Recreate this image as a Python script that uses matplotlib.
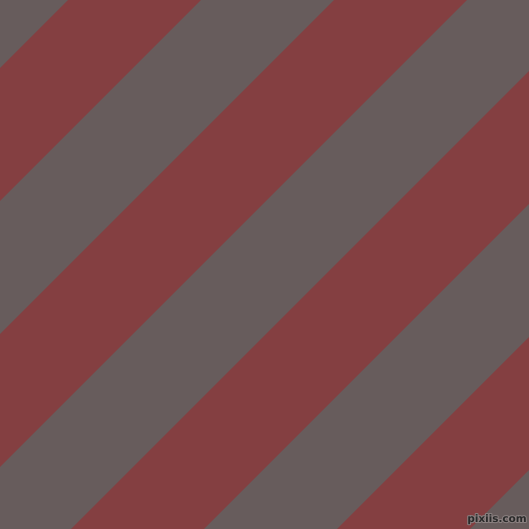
import numpy as np
import matplotlib
matplotlib.use("Agg")
from matplotlib import pyplot as plt
import matplotlib.patheffects as pe

# red stripe edges measured along x + y (pixels), 45 degree stripes
red_lo = [68, 334, 600, 866]
red_hi = [201, 467, 733, 999]
gray = "#675c5c"
red = "#843f41"
size = 529

fig = plt.figure(figsize=(5.29, 5.29), dpi=100, facecolor=gray)
ax = fig.add_axes([0, 0, 1, 1])
ax.set_facecolor(gray)
ax.set_xlim(0, size)
ax.set_ylim(size, 0)
ax.axis("off")

x = np.array([-10.0, size + 10.0])
for lo, hi in zip(red_lo, red_hi):
    ax.fill_between(x, lo - x, hi - x, color=red, linewidth=0)

ax.text(527, 519, "pixiis.com", ha="right", va="center", fontsize=7.5,
        color="#2a2a2a", family="DejaVu Sans", fontweight="bold",
        path_effects=[pe.withStroke(linewidth=1.5, foreground="#8a8080")])

plt.savefig("out.png", dpi=100, facecolor=gray)
